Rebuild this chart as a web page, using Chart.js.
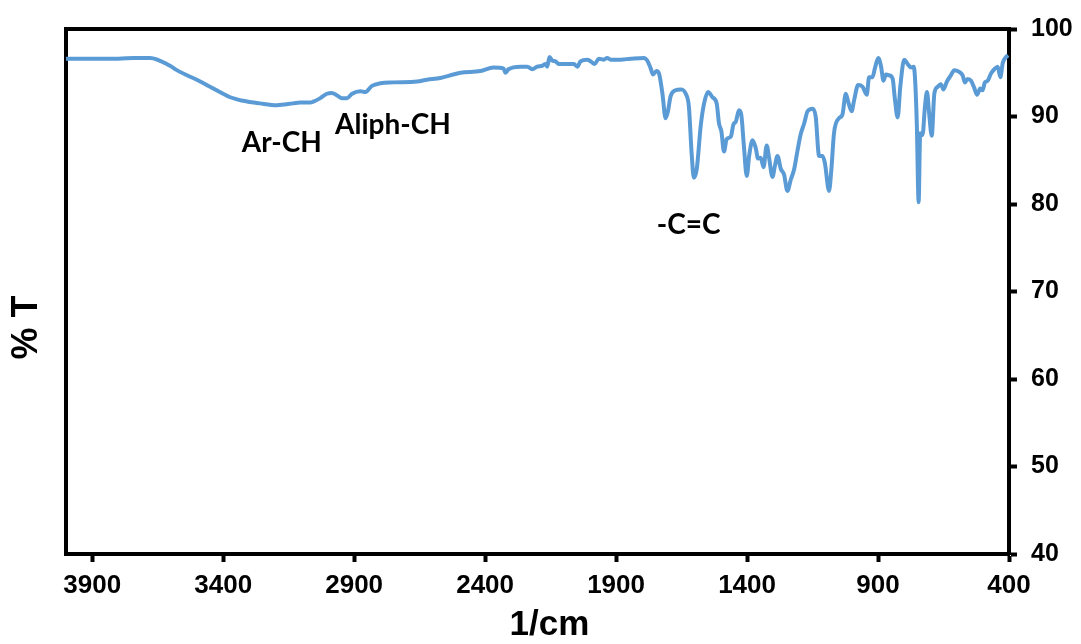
<!DOCTYPE html>
<html>
<head>
<meta charset="utf-8">
<script src="https://cdn.jsdelivr.net/npm/chart.js@4.4.1/dist/chart.umd.min.js"></script>
<style>
  html, body { margin: 0; padding: 0; background: #fff; }
  #wrap { width: 1081px; height: 644px; }
</style>
</head>
<body>
<div id="wrap"><canvas id="c" width="1081" height="644"></canvas></div>
<script>
// ---- data ----
const wavenumbers = [
  4000, 3900, 3800, 3740, 3679, 3603, 3577, 3488, 3450, 3373, 3324, 3259, 3195, 3133, 3106,
  3067, 3056, 3029, 3004, 2985, 2965, 2946, 2927, 2908, 2876, 2857, 2832, 2800, 2750, 2660,
  2622, 2571, 2521, 2494, 2418, 2368, 2330, 2322, 2311, 2265, 2239, 2220, 2201, 2182, 2169,
  2163, 2154, 2144, 2131, 2119, 2093, 2061, 2048, 2036, 2010, 1997, 1982, 1966, 1947, 1934,
  1921, 1883, 1845, 1794, 1781, 1768, 1759, 1746, 1736, 1723, 1711, 1702, 1692, 1673, 1654,
  1634, 1622, 1611, 1603, 1592, 1577, 1564, 1549, 1532, 1516, 1507, 1498, 1488, 1478, 1462,
  1452, 1443, 1431, 1422, 1412, 1401, 1392, 1379, 1367, 1358, 1348, 1337, 1325, 1316, 1303,
  1294, 1284, 1271, 1259, 1246, 1233, 1220, 1208, 1195, 1182, 1169, 1150, 1138, 1125, 1112,
  1103, 1087, 1078, 1068, 1049, 1036, 1023, 1014, 1001, 991, 976, 959, 943, 934, 921,
  912, 899, 889, 879, 870, 857, 844, 836, 825, 815, 800, 787, 774, 764, 759,
  752, 745, 739, 730, 721, 713, 705, 695, 685, 672, 660, 650, 637, 622, 609,
  590, 577, 568, 558, 545, 533, 522, 510, 501, 492, 481, 469, 456, 443, 433,
  424, 411, 403
];
const transmittance = [
  96.6, 96.6, 96.6, 96.7, 96.7, 95.8, 95.3, 94.0, 93.4, 92.2, 91.8, 91.5, 91.3, 91.5, 91.6,
  91.6, 91.7, 92.1, 92.6, 92.7, 92.4, 92.1, 92.1, 92.6, 92.9, 92.8, 93.5, 93.8, 93.9, 94.0,
  94.2, 94.4, 94.8, 95.0, 95.2, 95.6, 95.5, 95.0, 95.4, 95.7, 95.7, 95.4, 95.7, 95.8, 96.0,
  95.7, 96.8, 96.4, 96.3, 96.0, 96.0, 96.0, 95.7, 96.3, 96.5, 96.3, 96.0, 96.6, 96.5, 96.7,
  96.5, 96.5, 96.6, 96.7, 96.4, 95.5, 94.8, 95.2, 94.9, 92.6, 89.8, 90.6, 92.3, 93.0, 93.1,
  92.6, 91.1, 85.5, 83.0, 84.0, 88.9, 91.5, 92.8, 92.2, 91.5, 89.2, 88.3, 86.0, 87.4, 87.7,
  89.1, 89.4, 90.7, 90.2, 86.6, 83.2, 85.5, 87.3, 86.4, 85.2, 85.3, 84.2, 86.7, 85.3, 83.1,
  84.3, 85.5, 84.0, 83.4, 81.5, 82.8, 84.0, 86.0, 88.0, 89.2, 90.6, 90.9, 90.0, 85.5, 85.5,
  84.7, 81.5, 84.0, 88.1, 89.8, 90.2, 92.6, 91.7, 90.6, 91.9, 93.6, 93.4, 92.5, 94.5, 94.5,
  95.5, 96.7, 95.8, 94.1, 94.8, 94.7, 94.3, 92.1, 89.9, 93.4, 96.5, 96.0, 95.6, 95.7, 94.5,
  89.2, 80.2, 88.1, 87.9, 91.1, 92.8, 90.4, 87.8, 92.6, 93.4, 93.7, 93.1, 94.0, 94.7, 95.3,
  95.1, 94.7, 93.9, 94.3, 94.1, 93.3, 92.5, 93.2, 93.0, 93.9, 94.1, 94.9, 95.4, 95.7, 94.5,
  96.1, 96.8, 97.0
];
const xTickValues = [3900, 3400, 2900, 2400, 1900, 1400, 900, 400];
const yTickValues = [40, 50, 60, 70, 80, 90, 100];
const xAxisTitle = '1/cm';
const yAxisTitle = '% T';
const annotationText = ['Ar-CH', 'Aliph-CH', '-C=C'];
const annotationWavenumber = [3176, 2752, 1623];
const annotationT = [85.9, 88.0, 76.6];

// ---- chart ----
const spectrum = wavenumbers.map((w, i) => ({ x: w, y: transmittance[i] }));
const BLACK = '#000000';
const FAMILY = '"Liberation Sans", Arial, sans-serif';

const textPlugin = {
  id: 'freeText',
  afterDraw(chart) {
    const { ctx, scales, chartArea } = chart;
    ctx.save();
    ctx.fillStyle = BLACK;
    // peak annotations, placed through the data scales
    ctx.font = 'bold 28px Lato, "Open Sans", sans-serif';
    ctx.textAlign = 'center';
    ctx.textBaseline = 'alphabetic';
    annotationText.forEach((t, i) => {
      ctx.fillText(t, scales.x.getPixelForValue(annotationWavenumber[i]), scales.y.getPixelForValue(annotationT[i]));
    });
    // axis titles
    ctx.font = 'bold 35px ' + FAMILY;
    ctx.textBaseline = 'middle';
    ctx.fillText(xAxisTitle, (chartArea.left + chartArea.right) / 2 + 12, chart.height - 19);
    ctx.save();
    ctx.translate(27, (chartArea.top + chartArea.bottom) / 2 + 36);
    ctx.rotate(-Math.PI / 2);
    ctx.font = 'bold 36px ' + FAMILY;
    ctx.fillText(yAxisTitle, 0, 0);
    ctx.restore();
    ctx.restore();
  }
};

new Chart(document.getElementById('c'), {
  type: 'line',
  data: {
    datasets: [{
      data: spectrum,
      borderColor: '#5B9BD5',
      borderWidth: 4,
      pointRadius: 0,
      cubicInterpolationMode: 'monotone',
      fill: false,
      xAxisID: 'x',
      yAxisID: 'y'
    }]
  },
  options: {
    responsive: false,
    animation: false,
    devicePixelRatio: 1,
    layout: { padding: 0 },
    plugins: { legend: { display: false }, tooltip: { enabled: false }, title: { display: false } },
    scales: {
      x: {
        type: 'linear', position: 'bottom', reverse: true, min: 400, max: 4000,
        afterBuildTicks: s => { s.ticks = xTickValues.map(v => ({ value: v })); },
        afterFit: s => { s.height = 90; },
        ticks: { font: { family: FAMILY, size: 26, weight: 'bold' }, color: BLACK, padding: 8, maxRotation: 0, autoSkip: false, callback: v => String(v) },
        grid: { display: true, drawOnChartArea: false, drawTicks: true, tickLength: 8, tickWidth: 4, tickColor: BLACK },
        border: { display: true, color: BLACK, width: 4 }
      },
      x2: {
        type: 'linear', position: 'top', reverse: true, min: 400, max: 4000,
        afterFit: s => { s.height = 25; },
        ticks: { display: false },
        grid: { display: false },
        border: { display: true, color: BLACK, width: 4 }
      },
      y: {
        type: 'linear', position: 'right', min: 40, max: 100,
        afterBuildTicks: s => { s.ticks = yTickValues.map(v => ({ value: v })); },
        afterFit: s => { s.width = 72; },
        ticks: { font: { family: FAMILY, size: 25, weight: 'bold' }, color: BLACK, padding: 14, callback: v => String(v) },
        grid: { display: true, drawOnChartArea: false, drawTicks: true, tickLength: 8, tickWidth: 4, tickColor: BLACK },
        border: { display: true, color: BLACK, width: 4 }
      },
      y2: {
        type: 'linear', position: 'left', min: 40, max: 100,
        afterFit: s => { s.width = 66; },
        ticks: { display: false },
        grid: { display: false },
        border: { display: true, color: BLACK, width: 4 }
      }
    }
  },
  plugins: [textPlugin]
});
</script>
</body>
</html>
